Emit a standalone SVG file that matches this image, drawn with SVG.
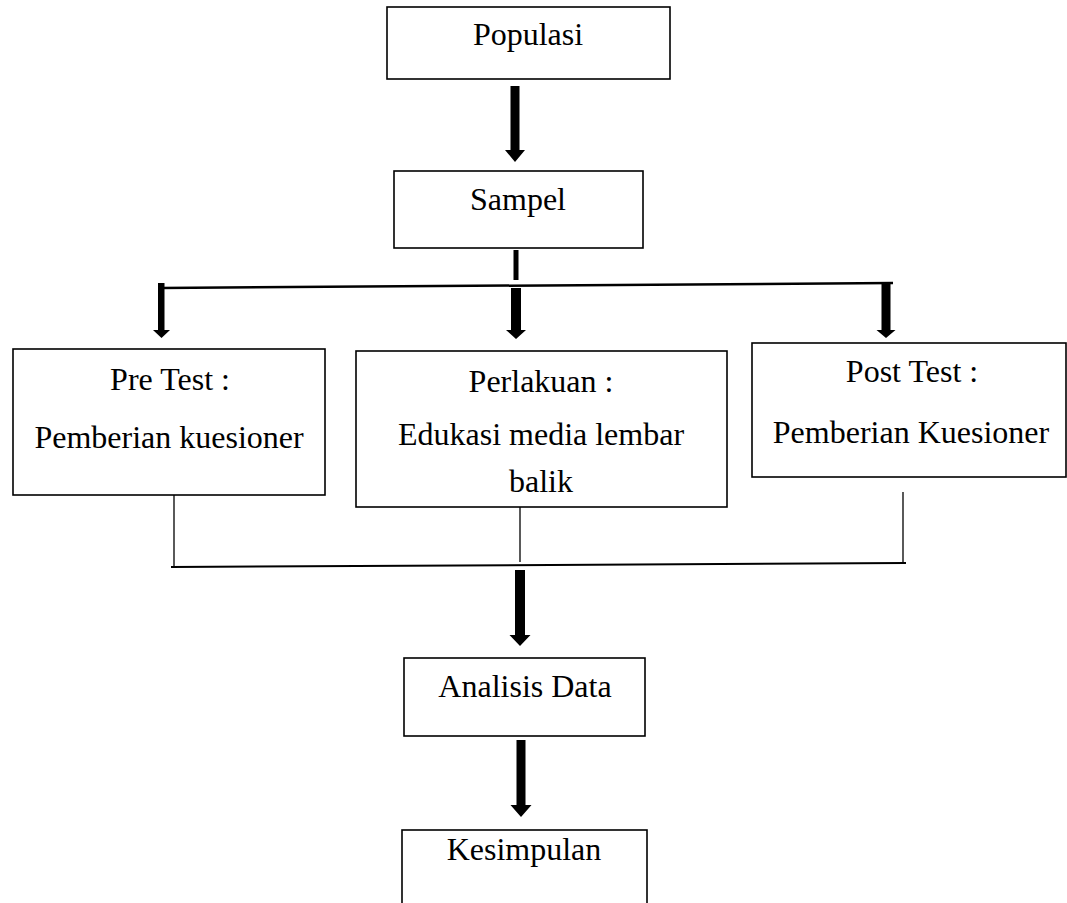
<svg xmlns="http://www.w3.org/2000/svg" width="1067" height="903" viewBox="0 0 1067 903">
<style>
.box{fill:#fff;stroke:#000;stroke-width:1.6}
.t{font-family:"Liberation Serif","Times New Roman",serif;font-size:32px;fill:#000;text-anchor:middle}
.ln{stroke:#000;fill:none}
.arr{fill:#000;stroke:none}
</style>
<rect width="1067" height="903" fill="#fff"/>
<g id="connectors">
<path class="arr" d="M510.5,86 h9 v64 h5.5 l-10,12 l-10,-12 h5.5 z"/>
<rect class="arr" x="513.5" y="250" width="5" height="30"/>
<line class="ln" x1="161" y1="288" x2="893" y2="283" stroke-width="2.5"/>
<path class="arr" d="M158,283 h6.5 v47 h5.5 l-8.5,8 l-8.5,-8 h5 z"/>
<path class="arr" d="M511,288 h10 v42 h5 l-10,9 l-10,-9 h5 z"/>
<path class="arr" d="M881.5,282 h9 v48 h5 l-9.5,8 l-9.5,-8 h5 z"/>
<line class="ln" x1="174" y1="493" x2="174" y2="567" stroke-width="1.3"/>
<line class="ln" x1="520" y1="502" x2="520" y2="562" stroke-width="1.3"/>
<line class="ln" x1="903" y1="492" x2="903" y2="563" stroke-width="1.3"/>
<line class="ln" x1="171" y1="567" x2="906" y2="563" stroke-width="2"/>
<path class="arr" d="M515,570 h10 v65 h5.5 l-10.5,11 l-10.5,-11 h5.5 z"/>
<path class="arr" d="M516.5,740 h9 v65 h6 l-10.5,12 l-10.5,-12 h6 z"/>
</g>
<g id="populasi">
<rect class="box" x="387" y="7" width="283" height="72"/>
<text class="t" x="528" y="45">Populasi</text>
</g>
<g id="sampel">
<rect class="box" x="394" y="171" width="249" height="77"/>
<text class="t" x="518" y="210">Sampel</text>
</g>
<g id="pretest">
<rect class="box" x="13" y="349" width="312" height="146"/>
<text class="t" x="170" y="390">Pre Test :</text>
<text class="t" x="169" y="448">Pemberian kuesioner</text>
</g>
<g id="perlakuan">
<rect class="box" x="356" y="351" width="371" height="156"/>
<text class="t" x="541" y="392">Perlakuan :</text>
<text class="t" x="541" y="445">Edukasi media lembar</text>
<text class="t" x="541" y="492">balik</text>
</g>
<g id="posttest">
<rect class="box" x="752" y="343" width="314" height="134"/>
<text class="t" x="912" y="382">Post Test :</text>
<text class="t" x="911" y="443">Pemberian Kuesioner</text>
</g>
<g id="analisis">
<rect class="box" x="404" y="658" width="241" height="78"/>
<text class="t" x="525" y="697">Analisis Data</text>
</g>
<g id="kesimpulan">
<rect class="box" x="402" y="830" width="245" height="90"/>
<text class="t" x="524" y="860">Kesimpulan</text>
</g>
</svg>
